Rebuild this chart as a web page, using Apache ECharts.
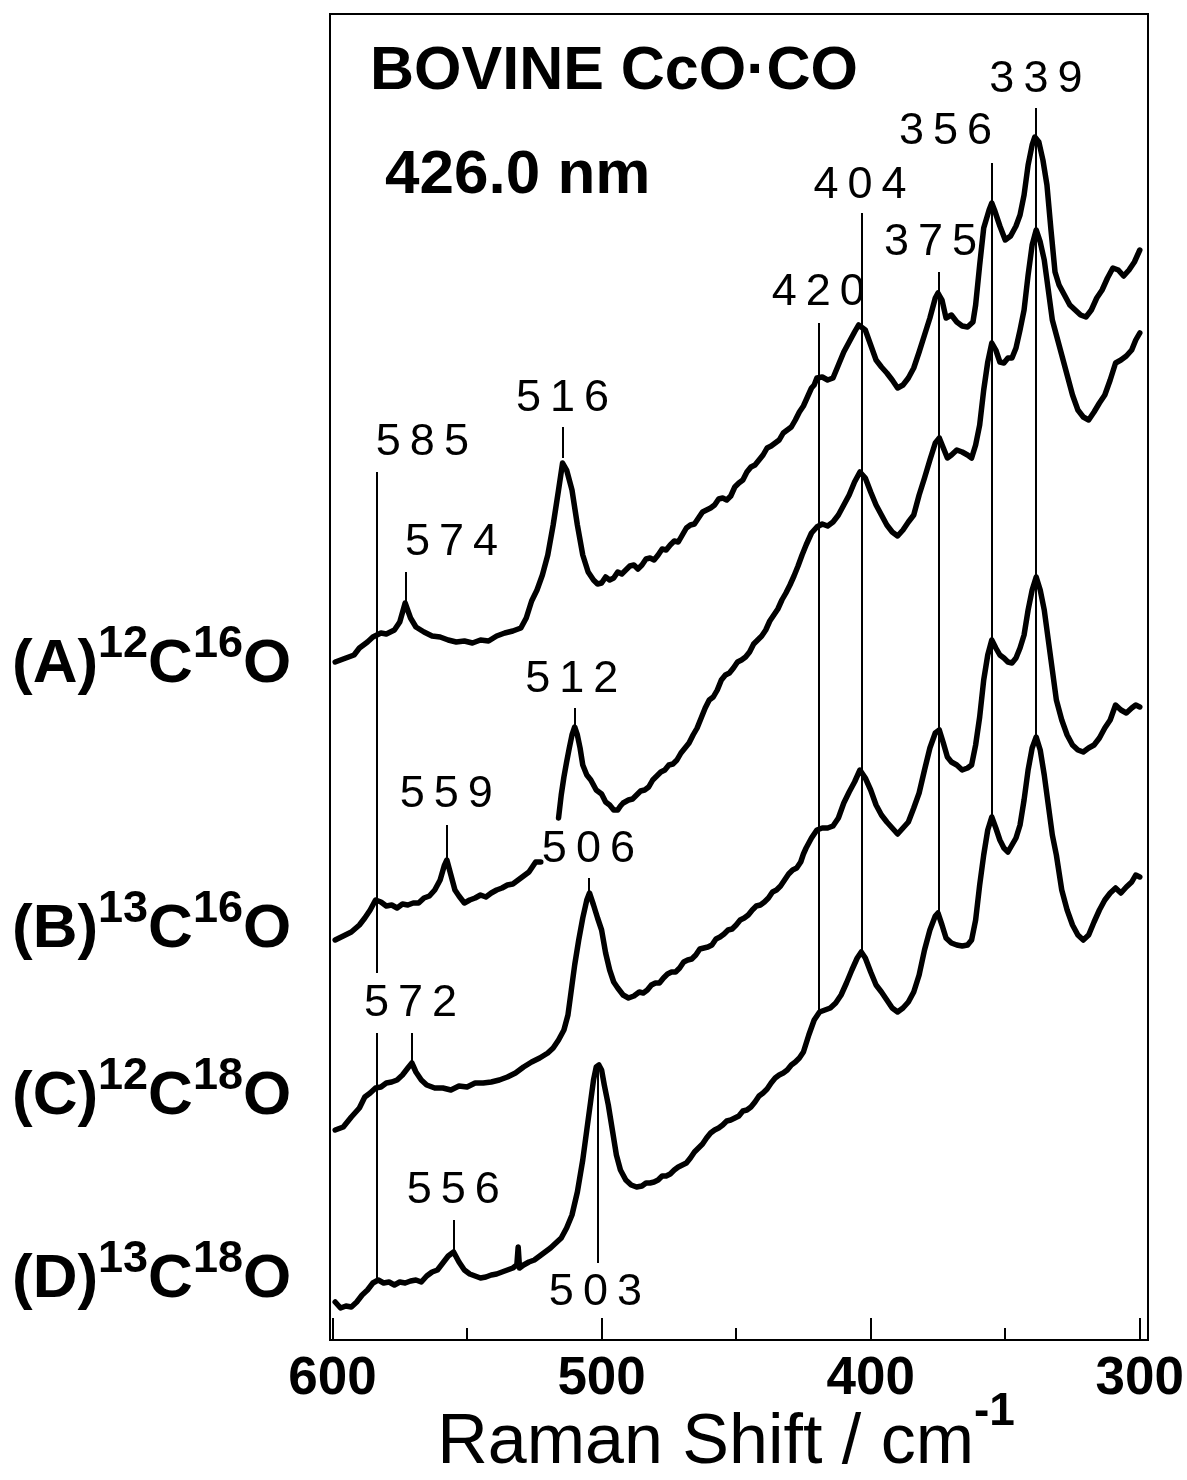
<!DOCTYPE html>
<html><head><meta charset="utf-8">
<script src="https://cdn.jsdelivr.net/npm/echarts@6/dist/echarts.min.js"></script>
<style>html,body{margin:0;padding:0;background:#fff}#c{width:1187px;height:1480px}</style>
</head><body><div id="c"></div>
<script>
// Raman shift (cm^-1) vs relative intensity (arb. units, traces vertically offset)
const spectrumA = [[599,678],[595,682],[592,685],[590,692],[587,698],[585,703],[582,707],[580,706],[577,710],[575,718],[573,737],[571,722],[569,713],[566,708],[563,704],[560,703],[557,700],[554,698],[551,699],[548,697],[545,700],[542,699],[539,704],[536,707],[533,709],[530,712],[528,722],[526,739],[524,750],[522,765],[520,785],[518,815],[516,850],[514.5,877],[513,870],[511,850],[509,815],[507,785],[505,768],[503,760],[501.5,756],[500,757],[498.5,763],[497,760],[495.5,762],[494,768],[492.5,766],[491,770],[489.5,774],[488,775],[486.5,771],[485,775],[483.5,781],[482,782],[480.5,780],[479,785],[477.5,791],[476,790],[474.5,795],[473,799],[471.5,798],[470,805],[468.5,812],[467,815],[465.5,816],[464,822],[462.5,828],[461,830],[459.5,832],[458,835],[456.5,841],[455,842],[453.5,840],[452,844],[450.5,853],[449,857],[447.5,860],[446,868],[444.5,873],[443,875],[441.5,880],[440,885],[438.5,892],[437,894],[435.5,897],[434,900],[432.5,907],[431,910],[429.5,913],[428,920],[426.5,928],[425,934],[423.5,943],[422,952],[421,955],[420,962],[418,963],[416,960],[414,962],[412,975],[410,988],[408,998],[406,1008],[404.5,1015],[402,1010],[400,995],[398,980],[396,973],[394,967],[392,960],[390,952],[388,955],[386,962],[384,972],[382,988],[380,1005],[378,1022],[376,1042],[375,1047],[373.5,1040],[372,1022],[370,1025],[368,1018],[366,1014],[364,1013],[362,1018],[361,1035],[359.5,1075],[358,1112],[356,1130],[355,1137],[354,1130],[352,1114],[350,1100],[348,1104],[346,1114],[344.5,1125],[343,1145],[341.5,1175],[340,1195],[339,1203],[337.5,1198],[336,1180],[334.5,1155],[333,1110],[331.5,1068],[330,1055],[328,1045],[326,1035],[324,1030],[322,1025],[320,1023],[318,1030],[316,1042],[314,1050],[312,1062],[310,1072],[308,1070],[306,1064],[304,1070],[302,1078],[300,1090]];

const spectrumB = [[599,400],[596,404],[593,408],[590,415],[588,422],[586,430],[584,440],[582,438],[580,434],[578,435],[576,432],[574,436],[572,435],[570,437],[568,437],[566,442],[564,444],[562,450],[560,460],[558.5,474],[557.5,480],[556,465],[554.5,450],[553,444],[551,437],[549,440],[547,442],[545,445],[543,443],[541,447],[539,450],[537,452],[535,455],[533,456],[531,460],[529,464],[527,468],[525.5,474],[524.5,478],[522.6,478],[520,'-'],
[516,522],[515,545],[514,563],[513,578],[512,592],[511,605],[510,613],[509,605],[508,592],[507,575],[505.5,565],[504,560],[502,550],[500,546],[498.5,538],[497,535],[495.5,530],[494,530],[493,534],[492,537],[490,540],[488.5,541],[487,545],[485.5,549],[484,550],[482.5,553],[481,560],[479.5,564],[478,568],[476.5,570],[475,575],[473.5,576],[472,580],[470.5,587],[469,592],[467.5,597],[466,605],[464.5,612],[463,622],[461.5,632],[460,640],[458.5,643],[457,650],[455.5,660],[454,665],[452.5,667],[451,672],[449.5,678],[448,680],[446.5,683],[445,688],[443.5,696],[442,700],[440.5,704],[439,710],[437.5,719],[436,725],[434.5,731],[433,740],[431.5,747],[430,755],[428.5,764],[427,774],[425.5,785],[424,795],[422,807],[420,813],[418,816],[416,814],[414,818],[412,825],[410,835],[408,845],[406,858],[404,868],[402,862],[400,848],[398,835],[396,825],[394,815],[392,808],[390,804],[388,810],[386,818],[384,825],[382,845],[380,862],[378,880],[376,897],[374.5,902],[373,892],[371.5,882],[370,885],[368,890],[366,888],[364,885],[362.5,882],[361,895],[359.5,915],[358,950],[356.5,978],[355,997],[353.5,990],[352,978],[350.5,977],[349,982],[347.5,982],[346,992],[344.5,1010],[343,1030],[341.5,1065],[340,1095],[338.5,1110],[337,1098],[335.5,1080],[334,1050],[332.5,1020],[331,1005],[329,985],[327,965],[325,945],[323,930],[321,923],[319,920],[317,928],[315,937],[313,945],[311,960],[309,977],[307,980],[305,984],[303,990],[301.5,1000],[300,1007]];

const spectrumC = [[599,210],[596,213],[593,223],[590,232],[588,243],[586,247],[584,252],[582,253],[580,257],[578,258],[576,260],[574,265],[572,272],[570.5,277],[569,268],[567,260],[565,255],[562,252],[559,252],[556,250],[553,254],[550,253],[547,257],[544,257],[541,258],[538,260],[535,263],[532,267],[529,273],[526,278],[523,282],[520,287],[518,292],[516,300],[514,310],[512.5,325],[511,355],[510,375],[508.5,400],[507,422],[505.5,440],[504.5,447],[503,435],[501.5,422],[500,410],[498.5,387],[497,370],[495.5,358],[494,352],[492,345],[490,342],[488,344],[486,348],[484.5,347],[483,350],[481.5,355],[480,357],[478.5,357],[477,362],[475.5,366],[474,368],[472.5,368],[471,372],[469.5,378],[468,380],[466.5,381],[465,385],[463.5,391],[462,392],[460.5,393],[459,395],[457.5,401],[456,403],[454.5,406],[453,410],[451.5,411],[450,415],[448.5,420],[447,422],[445.5,425],[444,430],[442.5,434],[441,435],[439.5,438],[438,442],[436.5,448],[435,450],[433.5,454],[432,460],[430.5,466],[429,470],[427.5,472],[426,478],[425,486],[424,492],[422,502],[420,510],[418,512],[416,512],[414,514],[412,522],[410,537],[408,548],[406,558],[404,570],[402,562],[400,550],[398,535],[396,525],[394,518],[392,512],[390,506],[388,512],[386,518],[384,532],[382,547],[380,570],[378,592],[376,607],[374.5,610],[373,597],[371.5,583],[370,578],[368,575],[366,570],[364,572],[362.5,575],[361,595],[359.5,623],[358,660],[356.5,685],[355,700],[353.5,692],[352,685],[350.5,682],[349,678],[347.5,677],[346,682],[344.5,692],[343,705],[341.5,730],[340,750],[338.5,763],[337,750],[335.5,730],[334,700],[332.5,670],[331,640],[329,620],[327,605],[325,595],[323,590],[321,588],[319,592],[317,595],[315,602],[313,612],[311,620],[309,635],[307,630],[305,627],[303,632],[301.5,635],[300,633]];

const spectrumD = [[599,38],[597,32],[595,34],[593,33],[591,38],[589,45],[587,50],[585,57],[583,60],[581,57],[579,58],[577,55],[575,58],[573,57],[571,59],[569,60],[567,58],[565,64],[563,68],[561,70],[559,77],[557,84],[555,88],[553,78],[551,70],[549,66],[547,64],[545,62],[543,63],[541,65],[539,66],[537,68],[535,70],[533,72],[531.5,75],[531,93],[530.5,72],[529,75],[527,78],[525,80],[523,84],[521,88],[519,92],[517,97],[515,102],[513,112],[511,125],[509,148],[507,180],[505.5,210],[504,240],[503,260],[502,273],[501,275],[500,270],[499,255],[497.5,235],[496,210],[494.5,185],[493,170],[491,160],[489,155],[487,153],[485,154],[483.5,157],[482,157],[480.5,158],[479,160],[477.5,164],[476,164],[474.5,166],[473,170],[471.5,173],[470,175],[468.5,177],[467,182],[465.5,188],[464,192],[462.5,196],[461,202],[459.5,207],[458,210],[456.5,212],[455,215],[453.5,219],[452,220],[450.5,222],[449,224],[447.5,229],[446,230],[444.5,233],[443,238],[441.5,244],[440,247],[438.5,251],[437,257],[435.5,262],[434,265],[432.5,267],[431,270],[429.5,275],[428,278],[426.5,282],[425,288],[423,305],[421,320],[419,328],[417,330],[415,332],[413,337],[411,345],[409,357],[407,370],[405,382],[403.5,388],[402,382],[400,368],[398,355],[396,348],[394,340],[392,332],[390,328],[388,332],[386,338],[384,348],[382,365],[380,390],[378,410],[376,424],[375,427],[373.5,415],[372,402],[370,397],[368,395],[366,394],[364,395],[362.5,400],[361,420],[359.5,455],[358,485],[356.5,510],[355,523],[353.5,512],[352,500],[350.5,492],[349,488],[347.5,495],[346,502],[344.5,515],[343,540],[341.5,570],[340,592],[338.5,603],[337,590],[335.5,565],[334,535],[332.5,505],[331,485],[329,450],[327,430],[325,415],[323,405],[321,400],[319,405],[317,418],[315,430],[313,440],[311,447],[309,452],[307,447],[305,453],[303,458],[301.5,465],[300,463]];

// peak marker lines: position, top, bottom (same units as traces)
const markerX      = [338.6, 355, 374.6, 403.5, 419.3, 514.3, 583.4, 583.4, 572.8, 510.1, 557.6, 504.6, 570.6, 555, 501.5];
const markerTop    = [1232, 1177, 1068, 1127, 1017, 913, 868, 307, 768, 632, 515, 462, 307, 120, 272];
const markerBottom = [600, 523, 427, 388, 330, 882, 367, 57, 737, 613, 480, 447, 277, 88, 77];

// peak labels
const peakLabels = ['339','356','404','375','420','516','585','574','512','559','506','572','556','503'];
const peakLabelX = [338.6, 372.2, 404.0, 377.8, 419.5, 514.5, 566.6, 555.8, 511.1, 557.7, 504.9, 571.0, 555.1, 502.3];
const peakLabelY = [1260, 1208, 1154, 1097, 1047, 941, 897, 797, 660, 545, 490, 336, 149, 47];

const traceNames = ['(A)', '(B)', '(C)', '(D)'];
const traceIsotopes = [['12','16'], ['13','16'], ['12','18'], ['13','18']];
const xTicks = [300, 400, 500, 600];

const FONT = "'Liberation Sans', Arial, Helvetica, sans-serif";
const spaced = s => s.split('').join('\u2009');

const chart = echarts.init(document.getElementById('c'), null, {renderer: 'canvas'});

const lineStyleTrace = {color: '#000', width: 5.5, join: 'round', cap: 'round', opacity: 1};
function traceSeries(name, data) {
  return {name, type: 'line', data, showSymbol: false, symbol: 'none', silent: true,
    lineStyle: lineStyleTrace, connectNulls: false, z: 3};
}

const markLineData = markerX.map((x, i) => [{coord: [x, markerTop[i]]}, {coord: [x, markerBottom[i]]}]);
const labelData = peakLabels.map((t, i) => ({name: t, value: [peakLabelX[i], peakLabelY[i]]}));

const labelYs = [665, 930, 1097, 1280];
const leftLabels = traceNames.map((n, i) => ({
  type: 'text', x: 12, y: labelYs[i], silent: true,
  style: {
    text: '{m|' + n + '}{s|' + traceIsotopes[i][0] + '}{m|C}{s|' + traceIsotopes[i][1] + '}{m|O}',
    align: 'left', verticalAlign: 'middle', fill: '#000',
    rich: {
      m: {fontSize: 62, fontWeight: 'bold', fontFamily: FONT, lineHeight: 85, fill: '#000'},
      s: {fontSize: 45, fontWeight: 'bold', fontFamily: FONT, lineHeight: 45, verticalAlign: 'top', fill: '#000'}
    }
  }
}));

const option = {
  animation: false,
  backgroundColor: '#fff',
  grid: {left: 332.5, top: 14, width: 812, height: 1326},
  xAxis: {
    type: 'value', inverse: true, min: 300, max: 600, interval: 100,
    axisLine: {show: false}, splitLine: {show: false},
    axisTick: {show: true, inside: true, length: 22, lineStyle: {color: '#000', width: 2}},
    minorTick: {show: true, splitNumber: 2, length: 12, lineStyle: {color: '#000', width: 2}},
    axisLabel: {show: true, margin: 13, fontSize: 53, fontWeight: 'bold', color: '#000', fontFamily: FONT,
      formatter: v => xTicks.indexOf(v) >= 0 ? String(v) : ''}
  },
  yAxis: {type: 'value', min: 0, max: 1326, show: false},
  graphic: [
    {type: 'rect', silent: true, z: 100, shape: {x: 330, y: 14, width: 818, height: 1326},
      style: {fill: 'none', stroke: '#000', lineWidth: 2}},
    {type: 'text', x: 370, y: 72, silent: true,
      style: {text: 'BOVINE CcO\u00B7CO', fontSize: 61, fontWeight: 'bold', fontFamily: FONT, fill: '#000', align: 'left', verticalAlign: 'middle'}},
    {type: 'text', x: 385, y: 176, silent: true,
      style: {text: '426.0 nm', fontSize: 62, fontWeight: 'bold', fontFamily: FONT, fill: '#000', align: 'left', verticalAlign: 'middle'}},
    {type: 'text', x: 974, y: 1444, silent: true,
      style: {text: 'Raman Shift / cm', fontSize: 70, fontFamily: FONT, fill: '#000', align: 'right', verticalAlign: 'middle'}},
    {type: 'text', x: 974, y: 1412, silent: true,
      style: {text: '-1', fontSize: 46, fontWeight: 'bold', fontFamily: FONT, fill: '#000', align: 'left', verticalAlign: 'middle'}}
  ].concat(leftLabels),
  series: [
    Object.assign(traceSeries('A', spectrumA), {
      markLine: {silent: true, symbol: ['none', 'none'], label: {show: false}, animation: false,
        lineStyle: {color: '#000', width: 2, type: 'solid', opacity: 1}, emphasis: {disabled: true}, data: markLineData}
    }),
    traceSeries('B', spectrumB),
    traceSeries('C', spectrumC),
    traceSeries('D', spectrumD),
    {type: 'scatter', data: labelData, symbolSize: 0, silent: true, z: 5,
      itemStyle: {opacity: 1},
      label: {show: true, position: 'inside', formatter: p => spaced(p.name), fontSize: 45,
        color: '#000', opacity: 1, fontFamily: FONT}}
  ]
};
chart.setOption(option);
</script>
</body></html>
